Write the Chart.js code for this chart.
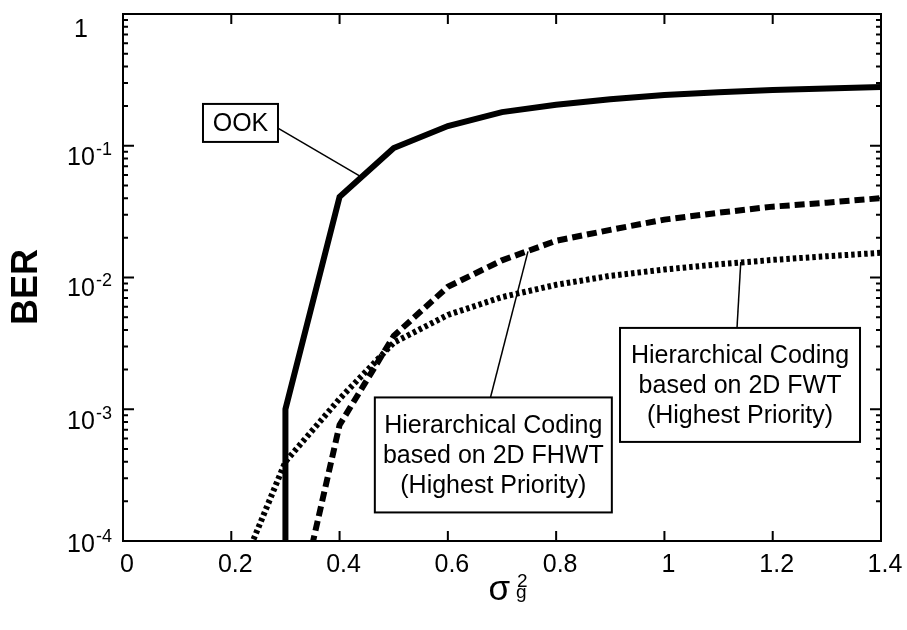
<!DOCTYPE html>
<html>
<head>
<meta charset="utf-8">
<title>BER x sigma_g^2</title>
<script src="https://cdn.jsdelivr.net/npm/chart.js@4.4.1/dist/chart.umd.min.js"></script>
<style>
  html, body { margin: 0; padding: 0; background: #fff; }
  canvas { display: block; }
</style>
</head>
<body>
<canvas id="grafico" width="907" height="630"></canvas>
<script>
// Curvas de BER em funcao de sigma_g^2
const sigmaOOK = [0.3, 0.3, 0.4, 0.5, 0.6, 0.7, 0.8, 0.9, 1.0, 1.1, 1.2, 1.3, 1.4];
const berOOK   = [1e-6, 1e-3, 0.041, 0.096, 0.141, 0.18, 0.205, 0.225, 0.243, 0.255, 0.265, 0.272, 0.279];

const sigmaFHWT = [0.3, 0.4, 0.5, 0.6, 0.7, 0.8, 0.9, 1.0, 1.1, 1.2, 1.3, 1.4];
const berFHWT   = [1.2e-5, 7.6e-4, 3.6e-3, 8.5e-3, 0.0135, 0.019, 0.023, 0.0275, 0.031, 0.0345, 0.037, 0.040];

const sigmaFWT = [0.2, 0.3, 0.4, 0.5, 0.6, 0.7, 0.8, 0.9, 1.0, 1.1, 1.2, 1.3, 1.4];
const berFWT   = [4e-5, 4e-4, 1.2e-3, 3.2e-3, 5.2e-3, 7.1e-3, 8.8e-3, 0.0103, 0.0115, 0.0126, 0.0136, 0.0145, 0.0154];

// Eixos
const xTicks = [0, 0.2, 0.4, 0.6, 0.8, 1.0, 1.2, 1.4];
const xTickLabels = ['0', '0.2', '0.4', '0.6', '0.8', '1', '1.2', '1.4'];
const yTicks = [1e-4, 1e-3, 1e-2, 1e-1, 1];
const yTickBase = ['10', '10', '10', '10', '1'];
const yTickExp = ['-4', '-3', '-2', '-1', ''];

const fonte = '"Liberation Sans", Arial, Helvetica, sans-serif';

// deslocamento vertical da linha de base de cada rotulo do eixo y
const yRotuloDesce = [11, 20, 18, 19, 23];

// Caixas de texto com linha de chamada (posicoes em coordenadas dos dados)
const notas = [
  { linhas: ['OOK'], x: 0.217, y: 0.149, w: 75, h: 38, sai: [37, 5], alvo: [0.44, 0.058] },
  { linhas: ['Hierarchical Coding', 'based on 2D FHWT', '(Highest Priority)'],
    x: 0.684, y: 4.5e-4, w: 237, h: 115, sai: [-3, -57], alvo: [0.748, 0.0158] },
  { linhas: ['Hierarchical Coding', 'based on 2D FWT', '(Highest Priority)'],
    x: 1.1396, y: 1.53e-3, w: 240, h: 114, sai: [-3, -57], alvo: [1.141, 0.0131] }
];

function pontos(xs, ys) {
  return xs.map((v, i) => ({ x: v, y: ys[i] }));
}

const moldura = {
  id: 'moldura',
  afterDraw(chart) {
    const ctx = chart.ctx;
    const a = chart.chartArea;
    const x = chart.scales.x, y = chart.scales.y;
    ctx.save();
    ctx.strokeStyle = '#000';
    ctx.fillStyle = '#000';

    // caixa do grafico
    ctx.lineWidth = 2;
    ctx.strokeRect(a.left, a.top, a.right - a.left, a.bottom - a.top);

    // marcas para dentro
    ctx.beginPath();
    xTicks.forEach(v => {
      const px = x.getPixelForValue(v);
      ctx.moveTo(px, a.bottom); ctx.lineTo(px, a.bottom - 10);
      ctx.moveTo(px, a.top); ctx.lineTo(px, a.top + 10);
    });
    yTicks.forEach((v, i) => {
      const py = y.getPixelForValue(v);
      ctx.moveTo(a.left, py); ctx.lineTo(a.left + 11, py);
      ctx.moveTo(a.right, py); ctx.lineTo(a.right - 11, py);
      if (i < yTicks.length - 1) {
        for (let k = 2; k <= 9; k++) {
          const pm = y.getPixelForValue(v * k);
          ctx.moveTo(a.left, pm); ctx.lineTo(a.left + 5, pm);
          ctx.moveTo(a.right, pm); ctx.lineTo(a.right - 5, pm);
        }
      }
    });
    ctx.stroke();

    // rotulos do eixo y com expoente
    ctx.textBaseline = 'alphabetic';
    yTicks.forEach((v, i) => {
      const py = y.getPixelForValue(v) + yRotuloDesce[i];
      ctx.font = '25px ' + fonte;
      ctx.textAlign = 'center';
      ctx.fillText(yTickBase[i], 81, py);
      if (yTickExp[i]) {
        const w = ctx.measureText(yTickBase[i]).width;
        ctx.font = '18px ' + fonte;
        ctx.textAlign = 'left';
        ctx.fillText(yTickExp[i], 81 + w / 2 + 1, py - 10);
      }
    });

    // titulo do eixo y
    ctx.save();
    ctx.translate(27, 287);
    ctx.rotate(-Math.PI / 2);
    ctx.font = 'bold 36px ' + fonte;
    ctx.textAlign = 'center';
    ctx.textBaseline = 'middle';
    ctx.fillText('BER', 0, 0);
    ctx.restore();

    // titulo do eixo x: sigma_g^2
    ctx.font = '35px ' + fonte;
    ctx.textAlign = 'right';
    ctx.fillText('σ', 510, 600);
    ctx.font = '19px ' + fonte;
    ctx.textAlign = 'left';
    ctx.fillText('g', 516, 598);
    ctx.fillText('2', 517, 587);

    // notas
    notas.forEach(n => {
      const cx = x.getPixelForValue(n.x);
      const cy = y.getPixelForValue(n.y);
      const ax = x.getPixelForValue(n.alvo[0]);
      const ay = y.getPixelForValue(n.alvo[1]);
      ctx.lineWidth = 1.5;
      ctx.beginPath();
      ctx.moveTo(cx + n.sai[0], cy + n.sai[1]);
      ctx.lineTo(ax, ay);
      ctx.stroke();

      ctx.fillStyle = '#fff';
      ctx.fillRect(cx - n.w / 2, cy - n.h / 2, n.w, n.h);
      ctx.fillStyle = '#000';
      ctx.lineWidth = 2;
      ctx.strokeRect(cx - n.w / 2, cy - n.h / 2, n.w, n.h);

      ctx.font = '25px ' + fonte;
      ctx.textAlign = 'center';
      ctx.textBaseline = 'middle';
      const passo = 30;
      const y0 = cy + 1 - passo * (n.linhas.length - 1) / 2;
      n.linhas.forEach((t, i) => ctx.fillText(t, cx, y0 + i * passo));
    });

    ctx.restore();
  }
};

new Chart(document.getElementById('grafico'), {
  type: 'line',
  data: {
    datasets: [
      {
        label: 'OOK',
        data: pontos(sigmaOOK, berOOK),
        borderColor: '#000',
        borderWidth: 6,
        borderJoinStyle: 'miter',
        pointRadius: 0,
        clip: 0
      },
      {
        label: 'Hierarchical Coding based on 2D FHWT',
        data: pontos(sigmaFHWT, berFHWT),
        borderColor: '#000',
        borderWidth: 6,
        borderDash: [10, 5],
        pointRadius: 0,
        clip: 0
      },
      {
        label: 'Hierarchical Coding based on 2D FWT',
        data: pontos(sigmaFWT, berFWT),
        borderColor: '#000',
        borderWidth: 6,
        borderDash: [3.5, 3],
        pointRadius: 0,
        clip: 0
      }
    ]
  },
  options: {
    responsive: false,
    devicePixelRatio: 1,
    animation: false,
    events: [],
    layout: { padding: { top: 14, right: 26, left: 0, bottom: 0 } },
    plugins: { legend: { display: false }, tooltip: { enabled: false } },
    scales: {
      x: {
        type: 'linear',
        min: 0,
        max: 1.4,
        grid: { display: false },
        border: { display: false },
        afterBuildTicks: s => { s.ticks = xTicks.map(v => ({ value: v })); },
        afterFit: s => { s.height = 89; },
        ticks: {
          color: '#000',
          font: { family: fonte, size: 25 },
          padding: 1,
          labelOffset: 4,
          maxRotation: 0,
          autoSkip: false,
          callback: (v, i) => xTickLabels[i]
        }
      },
      y: {
        type: 'logarithmic',
        min: 1e-4,
        max: 1,
        grid: { display: false },
        border: { display: false },
        afterBuildTicks: s => { s.ticks = yTicks.map(v => ({ value: v })); },
        afterFit: s => { s.width = 123; },
        ticks: { display: false }
      }
    }
  },
  plugins: [moldura]
});
</script>
</body>
</html>
